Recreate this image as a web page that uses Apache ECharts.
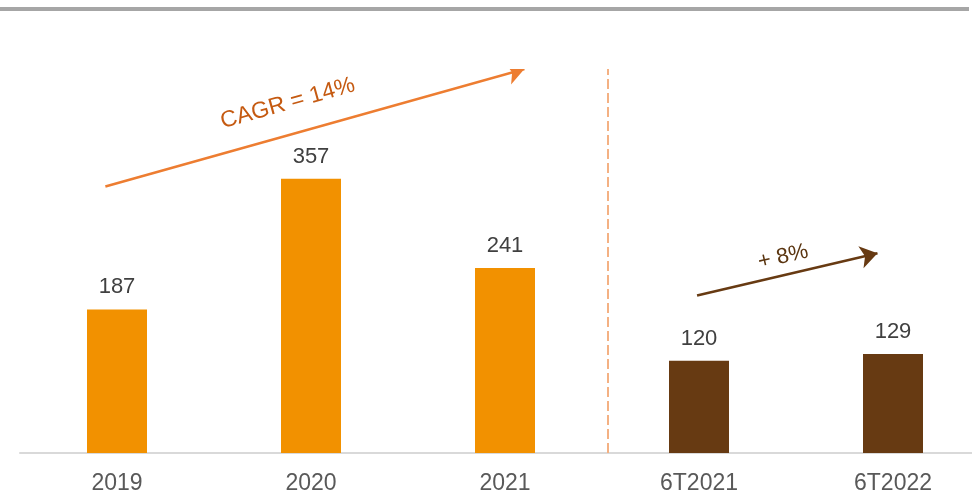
<!DOCTYPE html>
<html>
<head>
<meta charset="utf-8">
<script src="https://cdn.jsdelivr.net/npm/echarts@6/dist/echarts.min.js"></script>
<style>
  html, body { margin: 0; padding: 0; background: #fff; overflow: hidden; }
  #chart { width: 990px; height: 495px; }
</style>
</head>
<body>
<div id="chart"></div>
<script>
// data
const categories = ['2019', '2020', '2021', '6T2021', '6T2022'];
const values = [187, 357, 241, 120, 129];

// annotations, in data space: [category index, value]
const cagrArrow = [[-0.06, 347], [2.10, 500]];
const halfArrow = [[2.99, 205], [3.92, 260]];
const dividerX = 2.53;

const ORANGE = '#f29100';
const BROWN = '#673a12';

const myChart = echarts.init(document.getElementById('chart'), null, { renderer: 'canvas' });

const option = {
  animation: false,
  backgroundColor: '#fff',
  textStyle: { fontFamily: 'Liberation Sans, Arial, sans-serif' },
  grid: { left: 20, right: 0, top: 69, height: 388, containLabel: false },
  graphic: [
    { type: 'rect', shape: { x: 0, y: 7, width: 969, height: 4 }, style: { fill: '#a6a6a6' } }
  ],
  xAxis: [
    {
      type: 'category',
      data: categories,
      axisTick: { show: false },
      axisLine: { lineStyle: { color: '#d9d9d9', width: 2 } },
      axisLabel: { color: '#595959', fontSize: 23, margin: 19 }
    },
    { type: 'value', min: -0.5, max: 4.5, show: false }
  ],
  yAxis: {
    type: 'value', min: 0, max: 500, show: false, splitLine: { show: false }
  },
  series: [
    {
      type: 'bar',
      data: values,
      barWidth: 60,
      itemStyle: { color: p => (p.dataIndex < 3 ? ORANGE : BROWN) },
      label: { show: true, position: 'top', distance: 11, color: '#404040', fontSize: 22 }
    },
    {
      type: 'lines',
      coordinateSystem: 'cartesian2d',
      xAxisIndex: 1,
      yAxisIndex: 0,
      symbol: ['none', 'arrow'],
      symbolSize: 17,
      silent: true,
      data: [
        {
          coords: cagrArrow,
          lineStyle: { color: '#ed7d31', width: 2.5, opacity: 1 },
          label: { show: true, formatter: 'CAGR = 14%', position: 'middle', distance: 20, offset: [-25, 0], color: '#c55a11', fontSize: 23 }
        },
        {
          coords: halfArrow,
          lineStyle: { color: BROWN, width: 2.5, opacity: 1 },
          label: { show: true, formatter: '+ 8%', position: 'middle', distance: 7, color: '#5a3510', fontSize: 22 }
        }
      ]
    },
    {
      type: 'line',
      xAxisIndex: 1,
      data: [],
      markLine: {
        silent: true,
        symbol: 'none',
        label: { show: false },
        lineStyle: { color: '#f4b183', type: [10, 4], width: 2, opacity: 1 },
        data: [{ xAxis: dividerX }]
      }
    }
  ]
};

myChart.setOption(option);
window.onresize = function () { myChart.resize(); };
</script>
</body>
</html>
